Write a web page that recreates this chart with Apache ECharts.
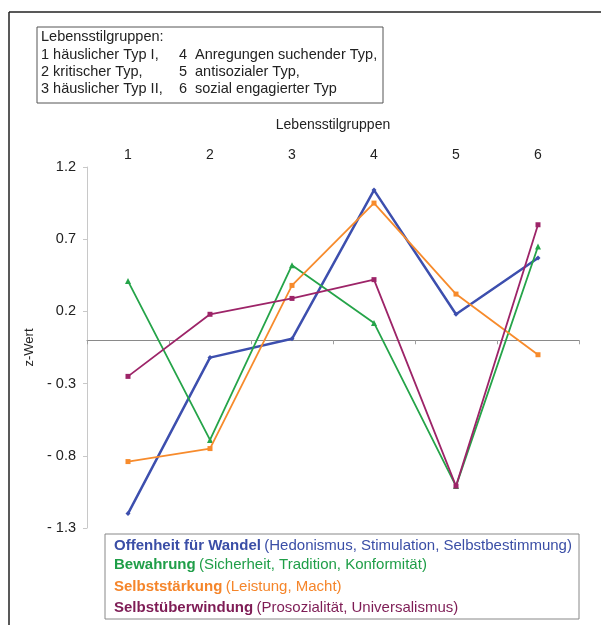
<!DOCTYPE html>
<html>
<head>
<meta charset="utf-8">
<script src="https://cdn.jsdelivr.net/npm/echarts@6/dist/echarts.min.js"></script>
<style>
  html, body { margin: 0; padding: 0; background: #ffffff; }
  #chart { width: 601px; height: 625px; }
</style>
</head>
<body>
<div id="chart"></div>
<script>
// Lebensstilgruppen (x categories)
const groups = ['1', '2', '3', '4', '5', '6'];
const groupNames = [
  'häuslicher Typ I,', 'kritischer Typ,', 'häuslicher Typ II,',
  'Anregungen suchender Typ,', 'antisozialer Typ,', 'sozial engagierter Typ'
];

// z-Werte je Wertedimension
const offenheit = [-1.20, -0.12, 0.01, 1.04, 0.18, 0.57];
const bewahrung = [0.41, -0.69, 0.52, 0.12, -1.01, 0.65];
const selbststaerkung = [-0.84, -0.75, 0.38, 0.95, 0.32, -0.10];
const selbstueberwindung = [-0.25, 0.18, 0.29, 0.42, -1.01, 0.80];

// y-axis tick labels
const yTicks = [-1.3, -0.8, -0.3, 0.2, 0.7, 1.2];

const seriesNames = ['Offenheit für Wandel', 'Bewahrung', 'Selbststärkung', 'Selbstüberwindung'];
const seriesDetails = [
  '(Hedonismus, Stimulation, Selbstbestimmung)',
  '(Sicherheit, Tradition, Konformität)',
  '(Leistung, Macht)',
  '(Prosozialität, Universalismus)'
];
const lineColors = ['#3d4fae', '#25a449', '#f78b2c', '#9d2468'];
const textColors = ['#3a4ea6', '#1f9e48', '#f5852a', '#7e1c55'];
const symbols = ['diamond', 'triangle', 'rect', 'rect'];
const seriesData = [offenheit, bewahrung, selbststaerkung, selbstueberwindung];

const FONT = '"Liberation Sans", Arial, sans-serif';
const INFO_FONT = '14.5px ' + FONT;

const chart = echarts.init(document.getElementById('chart'), null, { renderer: 'canvas' });

const fmtTick = v => {
  const s = Math.abs(v).toFixed(1);
  return v < 0 ? '- ' + s : s;
};

// info box text
const infoTexts = [{
  type: 'text', left: 41, top: 29,
  style: { text: 'Lebensstilgruppen:', font: INFO_FONT, fill: '#222' }
}];
const rowTops = [47, 64.5, 81.5];
for (let i = 0; i < 3; i++) {
  infoTexts.push({
    type: 'text', left: 41, top: rowTops[i],
    style: { text: (i + 1) + ' ' + groupNames[i], font: INFO_FONT, fill: '#222' }
  });
  infoTexts.push({
    type: 'text', left: 179, top: rowTops[i],
    style: { text: String(i + 4), font: INFO_FONT, fill: '#222' }
  });
  infoTexts.push({
    type: 'text', left: 195, top: rowTops[i],
    style: { text: groupNames[i + 3], font: INFO_FONT, fill: '#222' }
  });
}

// legend lines
const legendTops = [538, 557, 579, 600];
const legendTexts = seriesNames.map((n, i) => ({
  type: 'text', left: 114, top: legendTops[i],
  style: {
    text: '{b|' + n + '} {r|' + seriesDetails[i] + '}',
    rich: {
      b: { fontFamily: FONT, fontSize: 15, fontWeight: 'bold', fill: textColors[i], color: textColors[i] },
      r: { fontFamily: FONT, fontSize: 15, fill: textColors[i], color: textColors[i] }
    },
    fill: textColors[i]
  }
}));

const option = {
  backgroundColor: '#ffffff',
  animation: false,
  grid: { left: 87, right: 22, top: 167, bottom: 97, containLabel: false },
  xAxis: [
    {
      type: 'category',
      data: groups,
      position: 'top',
      boundaryGap: true,
      axisLine: { show: false, onZero: false },
      axisTick: { show: false },
      axisLabel: { margin: 5, fontFamily: FONT, fontSize: 14, color: '#222' },
      name: 'Lebensstilgruppen',
      nameLocation: 'middle',
      nameGap: 35,
      nameTextStyle: { fontFamily: FONT, fontSize: 14, color: '#222' }
    },
    {
      type: 'category',
      data: groups,
      position: 'bottom',
      boundaryGap: true,
      axisLine: { show: true, onZero: true, lineStyle: { color: '#8a8a8a', width: 1 } },
      axisTick: { show: true, length: 4, lineStyle: { color: '#a0a0a0' } },
      axisLabel: { show: false }
    }
  ],
  yAxis: {
    type: 'value',
    min: -1.3,
    max: 1.2,
    axisLine: { show: true, lineStyle: { color: '#c8c8c8', width: 1 } },
    axisTick: { show: true, length: 4, customValues: yTicks, lineStyle: { color: '#c8c8c8' } },
    axisLabel: {
      customValues: yTicks, margin: 11,
      fontFamily: FONT, fontSize: 14.5, color: '#222',
      formatter: fmtTick
    },
    splitLine: { show: false },
    name: 'z-Wert',
    nameLocation: 'middle',
    nameGap: 50,
    nameRotate: 90,
    nameTextStyle: { fontFamily: FONT, fontSize: 13, color: '#222' }
  },
  series: seriesData.map((d, i) => ({
    name: seriesNames[i],
    type: 'line',
    xAxisIndex: 0,
    data: d,
    symbol: symbols[i],
    symbolSize: i === 1 ? 6 : 5,
    showSymbol: true,
    lineStyle: { color: lineColors[i], width: i === 0 ? 2.5 : 1.8 },
    itemStyle: { color: lineColors[i] },
    z: 2 + i
  })),
  graphic: [
    // outer frame (left and top edges)
    { type: 'line', shape: { x1: 9, y1: 12, x2: 601, y2: 12 }, style: { stroke: '#222', lineWidth: 1.5 } },
    { type: 'line', shape: { x1: 9, y1: 12, x2: 9, y2: 625 }, style: { stroke: '#222', lineWidth: 1.5 } },
    // info box
    { type: 'rect', shape: { x: 37, y: 27, width: 346, height: 76 }, style: { fill: '#fff', stroke: '#555', lineWidth: 1 } },
    ...infoTexts,
    // legend box
    { type: 'rect', shape: { x: 105, y: 534, width: 474, height: 85 }, style: { fill: '#fff', stroke: '#888', lineWidth: 1 }, z: 10 },
    ...legendTexts.map(t => Object.assign(t, { z: 11 }))
  ]
};

chart.setOption(option);
</script>
</body>
</html>
